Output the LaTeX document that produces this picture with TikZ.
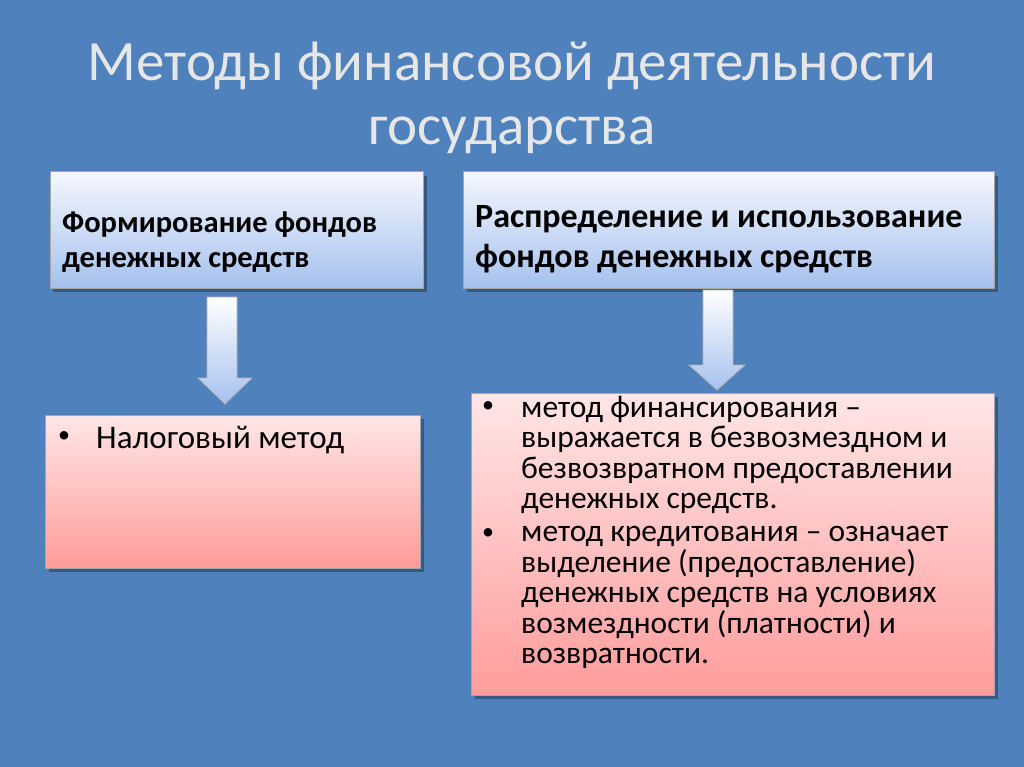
\documentclass[tikz,border=0pt]{standalone}
\usepackage{fontspec}
\setmainfont{Carlito}
\definecolor{bg}{HTML}{4F81BD}
\definecolor{topblue}{HTML}{F4F7FD}
\definecolor{botblue}{HTML}{A6C1EE}
\definecolor{toppink}{HTML}{FFE6E6}
\definecolor{botpink}{HTML}{FF9C9C}
\definecolor{titlec}{HTML}{E6E6E6}
\tikzset{
  bluebox/.style={draw=gray!70, line width=1pt, top color=topblue, bottom color=botblue},
  pinkbox/.style={draw=gray!70, line width=1pt, top color=toppink, bottom color=botpink},
  shad/.style={fill=black, opacity=0.3},
  txt/.style={anchor=north west, align=left, inner sep=0pt, text=black},
  arr/.style={draw=gray!60, line width=0.8pt, top color=white, bottom color=botblue}
}
\begin{document}
\begin{tikzpicture}[x=1pt,y=-1pt]
\useasboundingbox[fill=bg] (0,0) rectangle (1024,767);
\node[text=titlec, font=\fontsize{57}{64}\selectfont, align=center] (title) at (512,98) {Методы финансовой деятельности\\государства};
% shadows
\fill[shad] (53,176) rectangle (427,292);
\fill[shad] (467,176) rectangle (998,292);
\fill[shad] (49,419) rectangle (424,572);
\fill[shad] (475,397) rectangle (998,699);
\node[bluebox, minimum width=373pt, minimum height=116pt, inner sep=0pt] (b1) at (236.5,230) {};
\node[bluebox, minimum width=531pt, minimum height=116pt, inner sep=0pt] (b2) at (728.5,230) {};
\node[pinkbox, minimum width=375pt, minimum height=153pt, inner sep=0pt] (b3) at (232.5,491.5) {};
\node[pinkbox, minimum width=523pt, minimum height=302pt, inner sep=0pt] (b4) at (732.5,544) {};
\node[txt, font=\bfseries\fontsize{30.5}{35}\selectfont] (t1) at (62,211) {Формирование фондов\\денежных средств};
\node[txt, font=\bfseries\fontsize{34}{40}\selectfont] (t2) at (475,205) {Распределение и использование\\фондов денежных средств};
\node[txt, font=\fontsize{24}{31}\selectfont] (t3) at (58,431) {•};
\node[txt, font=\fontsize{33}{31}\selectfont] (t3b) at (96,426) {Налоговый метод};
\node[txt, font=\fontsize{24}{31}\selectfont] (d1) at (482,401) {•};
\node[txt, font=\fontsize{31.5}{30.5}\selectfont] (t4) at (521,396) {метод финансирования –\\выражается  в безвозмездном и\\безвозвратном предоставлении\\денежных средств.};
\node[txt, font=\fontsize{24}{31}\selectfont] (d2) at (482,528) {•};
\node[txt, font=\fontsize{31.5}{30.5}\selectfont] (t5) at (521,526) {метод кредитования – означает\\выделение (предоставление)\\денежных средств на условиях\\возмездности (платности) и\\возвратности.};
% arrows
\draw[arr] (207,297) -- (237,297) -- (237,378) -- (252,378) -- (225,404) -- (198,378) -- (207,378) -- cycle;
\draw[arr] (703,290) -- (733,290) -- (733,365) -- (745,365) -- (717,390) -- (689,365) -- (703,365) -- cycle;
\end{tikzpicture}
\end{document}
